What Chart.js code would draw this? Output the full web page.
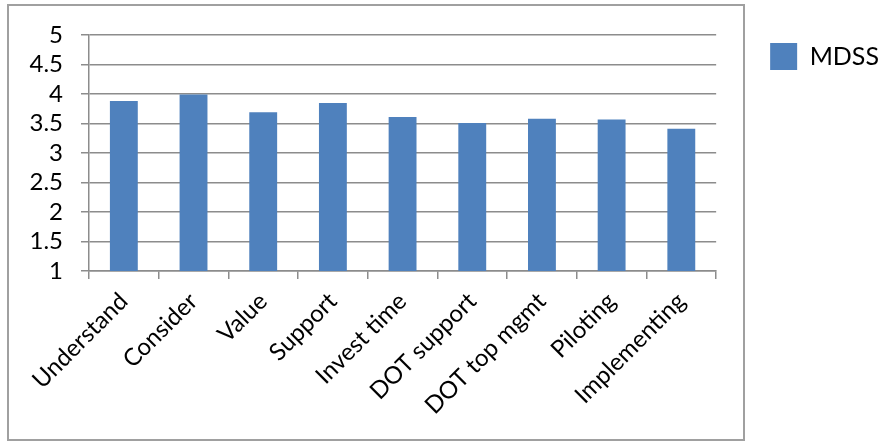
<!DOCTYPE html>
<html>
<head>
<meta charset="utf-8">
<script src="https://cdn.jsdelivr.net/npm/chart.js@4.4.1/dist/chart.umd.min.js"></script>
<style>
  html, body { margin: 0; padding: 0; background: #fff; }
  #wrap { width: 882px; height: 441px; position: relative; }
</style>
</head>
<body>
<div id="wrap"><canvas id="chart"></canvas></div>
<script>
// Puntajes medios por pregunta (escala 1-5)
const categories = ['Understand', 'Consider', 'Value', 'Support', 'Invest time', 'DOT support', 'DOT top mgmt', 'Piloting', 'Implementing'];
const mdssScores = [3.88, 3.99, 3.69, 3.85, 3.61, 3.51, 3.58, 3.57, 3.41];
const yTicks = [1, 1.5, 2, 2.5, 3, 3.5, 4, 4.5, 5];

const FONT = 'Lato, Calibri, "Open Sans", sans-serif';
const GRID = '#8c8c8c';
const BAR = '#4f81bd';

// Marco gris alrededor del area de trazado (estilo Excel)
const plotFrame = {
  id: 'plotFrame',
  beforeDraw(chart, args, opts) {
    const ctx = chart.ctx;
    ctx.save();
    ctx.strokeStyle = opts.color;
    ctx.lineWidth = opts.width;
    ctx.strokeRect(opts.left, opts.top, opts.right - opts.left, opts.bottom - opts.top);
    ctx.restore();
  }
};

new Chart(document.getElementById('chart'), {
  type: 'bar',
  data: {
    labels: categories,
    datasets: [{
      label: 'MDSS',
      data: mdssScores,
      backgroundColor: BAR,
      borderWidth: 0,
      barPercentage: 0.4,
      categoryPercentage: 1
    }]
  },
  options: {
    responsive: true,
    maintainAspectRatio: false,
    animation: false,
    layout: { padding: { top: 35, left: 11.5, right: -7, bottom: 13 } },
    plugins: {
      tooltip: { enabled: false },
      legend: {
        position: 'right',
        align: 'start',
        labels: {
          boxWidth: 27,
          boxHeight: 27,
          padding: 8,
          color: '#000',
          font: { family: FONT, size: 25 }
        }
      },
      plotFrame: { left: 8, top: 5, right: 744, bottom: 440, color: '#a0a0a0', width: 2 }
    },
    scales: {
      x: {
        grid: { offset: true, drawOnChartArea: false, drawTicks: true, tickLength: 8, color: GRID, lineWidth: 1.5 },
        border: { color: GRID, width: 1.5 },
        ticks: {
          color: '#000',
          autoSkip: false,
          minRotation: 45,
          maxRotation: 45,
          padding: 8,
          font: { family: FONT, size: 24 }
        }
      },
      y: {
        min: 1,
        max: 5,
        afterBuildTicks: (scale) => { scale.ticks = yTicks.map(v => ({ value: v })); },
        grid: { color: GRID, lineWidth: 1.5, tickLength: 8 },
        border: { color: GRID, width: 1.5 },
        ticks: {
          color: '#000',
          padding: 18,
          callback: (v) => String(v),
          font: { family: FONT, size: 24, lineHeight: 1 }
        }
      },
      // espacio vacio entre el area de trazado y la leyenda
      gap: {
        axis: 'y',
        type: 'linear',
        position: 'right',
        grid: { display: false },
        border: { display: false },
        ticks: { display: false },
        afterFit: (scale) => { scale.width = 46; }
      }
    }
  },
  plugins: [plotFrame]
});
</script>
</body>
</html>
